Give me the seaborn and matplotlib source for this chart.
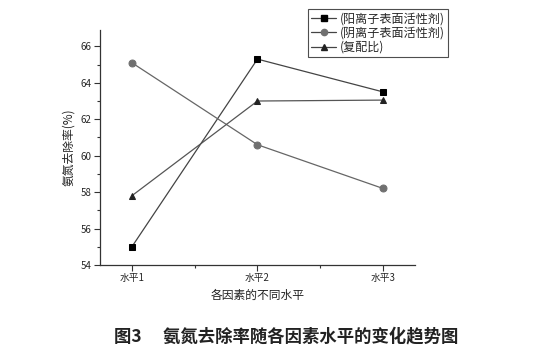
import matplotlib
matplotlib.use("Agg")
import matplotlib.pyplot as plt
from matplotlib.ticker import MultipleLocator
from matplotlib.lines import Line2D
import seaborn as sns
import pandas as pd

levels = ["水平1", "水平2", "水平3"]
series_names = ["(阳离子表面活性剂)", "(阴离子表面活性剂)", "(复配比)"]
cation = [55.0, 65.3, 63.5]
anion = [65.1, 60.6, 58.2]
ratio = [57.8, 63.0, 63.05]

sns.set_theme(style="ticks")
plt.rcParams["font.family"] = ["Noto Sans CJK SC", "DejaVu Sans"]

rows = []
for name, vals in zip(series_names, [cation, anion, ratio]):
    for i, v in enumerate(vals):
        rows.append({"level": i + 1, "value": v, "series": name})
df = pd.DataFrame(rows)

fig = plt.figure(figsize=(5.51, 3.61), dpi=100)
ax = fig.add_axes([0.1815, 0.266, 0.5715, 0.651])

palette = {series_names[0]: "#444444", series_names[1]: "#666666", series_names[2]: "#555555"}
markers = {series_names[0]: "s", series_names[1]: "o", series_names[2]: "^"}
sns.lineplot(data=df, x="level", y="value", hue="series", style="series",
             palette=palette, markers=markers, dashes=False, linewidth=0.9,
             markersize=5, ax=ax, legend=False)
mcolors = ["#000000", "#707070", "#222222"]
for line, mc in zip(ax.lines, mcolors):
    line.set_markerfacecolor(mc)
    line.set_markeredgecolor(mc)

ax.set_xlim(0.746, 3.254)
ax.set_ylim(54, 66.9)
ax.set_xticks([1, 2, 3])
ax.set_xticklabels(levels, fontsize=7)
ax.xaxis.set_minor_locator(MultipleLocator(0.5))
ax.yaxis.set_major_locator(MultipleLocator(2))
ax.yaxis.set_minor_locator(MultipleLocator(1))
ax.tick_params(axis="both", which="major", labelsize=7, length=4, width=0.8, color="#333333", pad=2)
ax.tick_params(axis="both", which="minor", length=2.5, width=0.8, color="#333333")
for s in ["top", "right"]:
    ax.spines[s].set_visible(False)
for s in ["left", "bottom"]:
    ax.spines[s].set_color("#333333")
    ax.spines[s].set_linewidth(0.9)

ax.set_xlabel("各因素的不同水平", fontsize=8.5, color="#222222", labelpad=4)
ax.set_ylabel("氨氮去除率(%)", fontsize=8.5, color="#222222", labelpad=4)

handles = [Line2D([0], [0], color="#444444", lw=0.9, marker=m, markersize=4.5,
                  markerfacecolor=mc, markeredgecolor=mc)
           for m, mc in zip(["s", "o", "^"], mcolors)]
leg = fig.legend(handles, series_names, loc="upper left", bbox_to_anchor=(0.559, 0.975),
                 fontsize=8.7, frameon=True, fancybox=False, edgecolor="#222222",
                 handlelength=2.1, handletextpad=0.3, borderpad=0.25, labelspacing=0.12,
                 borderaxespad=0)
leg.get_frame().set_linewidth(0.8)

fig.text(0.52, 0.068, "图3　 氨氮去除率随各因素水平的变化趋势图", ha="center", va="center",
         fontsize=12.5, fontweight="bold", color="#222222")

fig.savefig("out.png", dpi=100)
